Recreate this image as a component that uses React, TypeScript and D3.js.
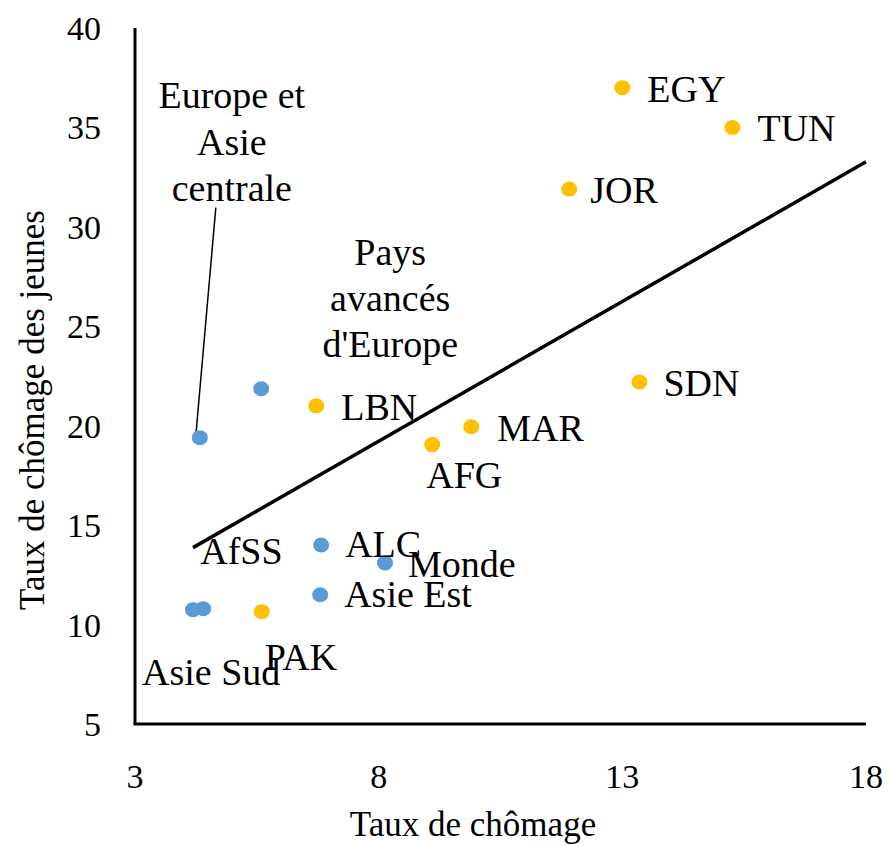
import React, { useEffect } from "react";
import * as d3 from "d3";

// ---- data ----
const names = ["EGY", "TUN", "JOR", "SDN", "MAR", "AFG", "LBN", "PAK",
  "Pays avancés d'Europe", "Europe et Asie centrale", "ALC", "Monde", "Asie Est", "AfSS", "Asie Sud"];
const unemployment = [13.0, 15.26, 11.91, 13.35, 9.9, 9.1, 6.72, 5.6,
  5.59, 4.33, 6.82, 8.13, 6.8, 4.4, 4.19];
const youthUnemployment = [37.0, 35.0, 31.9, 22.2, 19.95, 19.05, 21.0, 10.65,
  21.86, 19.4, 14.0, 13.1, 11.5, 10.8, 10.75];
const groups = ["MENAP", "MENAP", "MENAP", "MENAP", "MENAP", "MENAP", "MENAP", "MENAP",
  "Région", "Région", "Région", "Région", "Région", "Région", "Région"];
const trendX = [4.19, 18];
const trendY = [13.87, 33.27];
const xTicks = [3, 8, 13, 18];
const yTicks = [5, 10, 15, 20, 25, 30, 35, 40];

// ---- label placement (pixels relative to point) ----
const labelLayout: Record<string, { lines: string[]; anchor: string; dx: number; dy: number[] }> = {
  "EGY": { lines: ["EGY"], anchor: "start", dx: 25, dy: [14] },
  "TUN": { lines: ["TUN"], anchor: "start", dx: 25, dy: [14] },
  "JOR": { lines: ["JOR"], anchor: "start", dx: 21, dy: [14] },
  "SDN": { lines: ["SDN"], anchor: "start", dx: 24, dy: [14] },
  "MAR": { lines: ["MAR"], anchor: "start", dx: 26, dy: [14] },
  "AFG": { lines: ["AFG"], anchor: "middle", dx: 32, dy: [43] },
  "LBN": { lines: ["LBN"], anchor: "start", dx: 25, dy: [14] },
  "PAK": { lines: ["PAK"], anchor: "start", dx: 3, dy: [58] },
  "Pays avancés d'Europe": { lines: ["Pays", "avancés", "d'Europe"], anchor: "middle", dx: 129, dy: [-124, -78, -32] },
  "Europe et Asie centrale": { lines: ["Europe et", "Asie", "centrale"], anchor: "middle", dx: 32, dy: [-330, -283, -237] },
  "ALC": { lines: ["ALC"], anchor: "start", dx: 24, dy: [12] },
  "Monde": { lines: ["Monde"], anchor: "start", dx: 23, dy: [14] },
  "Asie Est": { lines: ["Asie Est"], anchor: "start", dx: 24, dy: [12] },
  "AfSS": { lines: ["AfSS"], anchor: "start", dx: -3, dy: [-45] },
  "Asie Sud": { lines: ["Asie Sud"], anchor: "start", dx: -51, dy: [75] },
};

const W = 889, H = 846;
const FONT = "'Liberation Serif', 'Times New Roman', serif";

export default function App() {
  useEffect(() => { document.body.style.margin = "0"; }, []);
  const x = d3.scaleLinear().domain([3, 18]).range([135, 866]);
  const y = d3.scaleLinear().domain([5, 40]).range([724, 28]);
  const colors: Record<string, string> = { MENAP: "#FFC000", "Région": "#5B9BD5" };
  const line = d3.line<[number, number]>().x(d => x(d[0])).y(d => y(d[1]));
  const trend: [number, number][] = trendX.map((v, i) => [v, trendY[i]]);
  const eacIdx = names.indexOf("Europe et Asie centrale");

  return (
    <svg width={W} height={H} style={{ display: "block", background: "#fff" }} fontFamily={FONT}>
      {/* axes */}
      <line x1={x(3)} x2={x(3)} y1={y(40)} y2={y(5)} stroke="#000" strokeWidth={3} />
      <line x1={x(3) - 1.5} x2={x(18)} y1={y(5)} y2={y(5)} stroke="#000" strokeWidth={3} />
      {yTicks.map(t => (
        <text key={"y" + t} x={101} y={y(t) + 12} textAnchor="end" fontSize={34} fill="#000">{t}</text>
      ))}
      {xTicks.map(t => (
        <text key={"x" + t} x={x(t)} y={788} textAnchor="middle" fontSize={34} fill="#000">{t}</text>
      ))}
      <text x={473} y={836} textAnchor="middle" fontSize={35} fill="#000">Taux de chômage</text>
      <text transform={`translate(44, 410) rotate(-90)`} textAnchor="middle" fontSize={35} fill="#000">Taux de chômage des jeunes</text>

      {/* trend line */}
      <path d={line(trend) || ""} stroke="#000" strokeWidth={3.5} fill="none" />

      {/* leader line */}
      <line x1={x(unemployment[eacIdx]) + 16} y1={y(youthUnemployment[eacIdx]) - 230}
        x2={x(unemployment[eacIdx]) - 4} y2={y(youthUnemployment[eacIdx]) - 2} stroke="#000" strokeWidth={1.5} />

      {/* points */}
      {names.map((n, i) => (
        <ellipse key={n} cx={x(unemployment[i])} cy={y(youthUnemployment[i])} rx={8} ry={7.5} fill={colors[groups[i]]} />
      ))}

      {/* labels */}
      {names.map((n, i) => {
        const L = labelLayout[n];
        const px = x(unemployment[i]), py = y(youthUnemployment[i]);
        return L.lines.map((t, j) => (
          <text key={n + j} x={px + L.dx} y={py + L.dy[j]} textAnchor={L.anchor as any} fontSize={38} fill="#000">{t}</text>
        ));
      })}
    </svg>
  );
}
